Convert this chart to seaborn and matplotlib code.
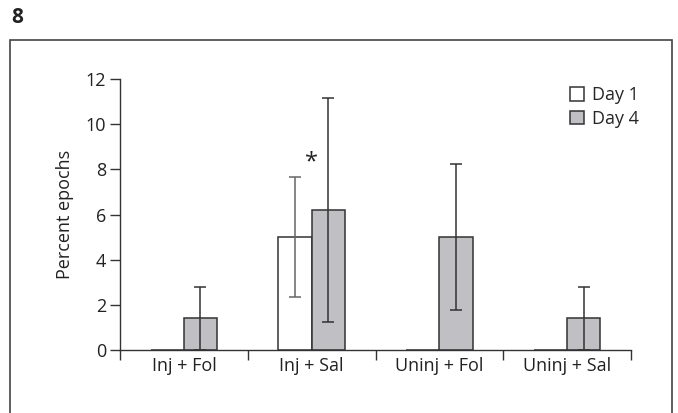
import numpy as np
import pandas as pd
import seaborn as sns
import matplotlib.pyplot as plt
from matplotlib.patches import Rectangle

groups = ["Inj + Fol", "Inj + Sal", "Uninj + Fol", "Uninj + Sal"]
days = ["Day 1", "Day 4"]
day1_mean = [0.0, 5.0, 0.0, 0.0]
day4_mean = [1.4, 6.2, 5.0, 1.4]
day1_err = [0.0, 2.67, 0.0, 0.0]
day4_err = [1.4, 4.95, 3.25, 1.4]

df = pd.DataFrame({
    "group": groups * 2,
    "day": [days[0]] * 4 + [days[1]] * 4,
    "value": day1_mean + day4_mean,
})
errs = [day1_err, day4_err]

sns.set_style("ticks")
plt.rcParams["font.family"] = ["Open Sans", "DejaVu Sans"]
fs = 13

fig = plt.figure(figsize=(6.78, 4.13), dpi=100)
ax = fig.add_axes([120 / 678, 63 / 413, 511 / 678, 271 / 413])

sns.barplot(data=df, x="group", y="value", hue="day", order=groups, hue_order=days,
            palette=["white", "#c0c0c4"], edgecolor="#333333", linewidth=1.1,
            width=0.52, errorbar=None, ax=ax)

# error bars (mean +/- SE) placed on the bars seaborn drew
err_colors = ["#666666", "#333333"]
for cont, err, col in zip(ax.containers, errs, err_colors):
    for bar, e in zip(cont, err):
        if e <= 0:
            continue
        xc = bar.get_x() + bar.get_width() / 2
        ax.errorbar(xc, bar.get_height(), yerr=e, fmt="none", ecolor=col,
                    elinewidth=1.1, capsize=4, capthick=1.1, zorder=3)

ax.text(1, 8.3, "*", ha="center", va="center", fontsize=17, color="#222222")

ax.set_xlim(-0.5, 3.5)
ax.set_ylim(0, 12)
ax.set_yticks([0, 2, 4, 6, 8, 10, 12])
ax.set_xticks(range(4))
ax.set_xticks(np.arange(-0.5, 4, 1), minor=True)
ax.tick_params(axis="x", which="major", length=0, pad=5, labelsize=fs, colors="#222222")
ax.tick_params(axis="x", which="minor", length=7, width=1, color="#333333")
ax.tick_params(axis="y", length=7, width=1, color="#333333", labelsize=fs, labelcolor="#222222", pad=3)
ax.set_xlabel("")
ax.set_ylabel("Percent epochs", fontsize=fs, color="#222222", labelpad=8)
for s in ["top", "right"]:
    ax.spines[s].set_visible(False)
for s in ["left", "bottom"]:
    ax.spines[s].set_color("#333333")
    ax.spines[s].set_linewidth(1)

ax.legend(loc="upper right", bbox_to_anchor=(1.03, 1.0), frameon=False, fontsize=fs,
          handlelength=0.75, handleheight=0.75, handletextpad=0.45, labelspacing=0.3,
          borderaxespad=0)

fig.add_artist(Rectangle((10 / 678, -0.1), 662 / 678, 1.1 - 40 / 413, transform=fig.transFigure,
                         fill=False, edgecolor="#444444", linewidth=1.2))
fig.text(11 / 678, 1 - 7 / 413, "8", ha="left", va="top", fontsize=15, fontweight="bold", color="#222222")

fig.savefig("out.png", dpi=100)
